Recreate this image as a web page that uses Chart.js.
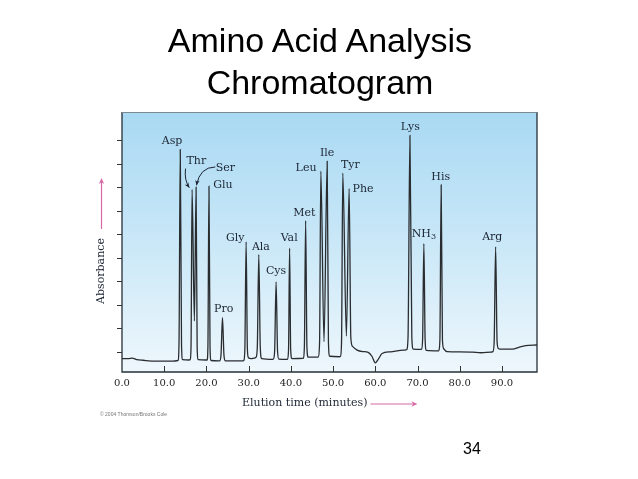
<!DOCTYPE html>
<html><head><meta charset="utf-8">
<script src="https://cdn.jsdelivr.net/npm/chart.js@4"></script>
<style>
html,body{margin:0;padding:0;background:#fff;width:638px;height:479px;overflow:hidden;}
#wrap{position:relative;width:638px;height:479px;}
canvas{position:absolute;left:0;top:0;}
.title{position:absolute;left:0;width:640px;top:19px;text-align:center;font-family:"Liberation Sans",Arial,sans-serif;font-size:34px;line-height:42px;color:#000;}
.page{position:absolute;left:463px;top:441px;font-family:"Liberation Sans",Arial,sans-serif;font-size:16px;line-height:16px;color:#000;}
</style></head>
<body><div id="wrap">
<canvas id="c" width="638" height="479"></canvas>
<div class="title">Amino Acid Analysis<br>Chromatogram</div>
<div class="page">34</div>
</div>
<script>
// Elution time (minutes) and absorbance (arbitrary units)
const elutionTimes = [
  0, 1.5, 2.4, 3.5, 5.0, 8.0, 12.0,
  13.25, 13.5, 13.8, 14.1, 14.35,
  15.95,
  16.15, 16.35, 16.6, 17.15, 17.55, 17.8, 18.05,
  19.9,
  20.15, 20.35, 20.6, 20.85, 21.1,
  22.9,
  23.1, 23.45, 23.8, 24.15, 24.5,
  28.7,
  28.85, 29.1, 29.4, 29.7, 29.95,
  30.6, 31.3,
  31.75, 32.05, 32.4, 32.75, 33.1,
  35.7,
  35.85, 36.15, 36.5, 36.85, 37.15,
  39.0,
  39.2, 39.45, 39.7, 39.95, 40.25,
  42.8,
  42.95, 43.2, 43.5, 43.8, 44.1,
  46.3,
  46.5, 46.8, 47.1, 47.85, 48.6, 48.9, 49.2,
  51.5,
  51.75, 52.0, 52.3, 53.15, 53.8, 54.2, 54.6,
  55.7, 57.0, 58.3, 59.2, 60.0, 60.8, 61.6, 63.6, 66.7,
  67.4, 67.75, 68.2, 68.65, 69.0,
  70.7,
  70.95, 71.2, 71.5, 71.8, 72.1,
  74.9,
  75.05, 75.3, 75.6, 75.9, 76.2,
  77.0, 80.0, 83.0, 85.0, 87.4,
  87.85, 88.15, 88.5, 88.85, 89.2,
  90.0, 92.5, 94.0, 95.6, 98.3
];
const absorbance = [
  0.70, 0.70, 0.72, 0.66, 0.63, 0.59, 0.59,
  0.62, 1.3, 9.6, 1.3, 0.66,
  0.64,
  0.66, 1.2, 7.9, 2.3, 8.0, 1.2, 0.66,
  0.64,
  0.64, 1.2, 8.04, 1.2, 0.62,
  0.60,
  0.60, 0.85, 2.44, 0.85, 0.60,
  0.60,
  0.62, 1.1, 5.67, 1.1, 0.74,
  0.70, 0.72,
  0.76, 1.2, 5.13, 1.2, 0.70,
  0.67,
  0.68, 1.0, 3.97, 1.0, 0.68,
  0.67,
  0.68, 1.1, 5.4, 1.1, 0.70,
  0.71,
  0.72, 1.2, 6.57, 1.2, 0.76,
  0.76,
  0.77, 1.4, 8.68, 1.42, 9.1, 1.4, 0.80,
  0.78,
  0.80, 1.4, 8.6, 1.66, 7.94, 1.6, 1.22,
  1.06, 1.0, 0.97, 0.80, 0.52, 0.70, 0.92, 0.99, 1.06,
  1.08, 1.6, 10.2, 1.6, 1.10,
  1.09,
  1.10, 1.5, 5.6, 1.5, 1.05,
  1.03,
  1.05, 1.5, 8.1, 1.5, 1.12,
  1.0, 0.99, 0.98, 0.95, 0.98,
  1.0, 1.4, 5.46, 1.4, 1.12,
  1.10, 1.10, 1.18, 1.25, 1.28
];
const xTickValues = [0, 10, 20, 30, 40, 50, 60, 70, 80, 90];
const xTickLabels = ['0.0','10.0','20.0','30.0','40.0','50.0','60.0','70.0','80.0','90.0'];
const yTickValues = [1, 2, 3, 4, 5, 6, 7, 8, 9, 10];
const xMin = 0, xMax = 98.3, yMin = 0.13, yMax = 11.2;

// peak labels, placed in data coordinates
const peakNames   = ['Asp','Thr','Ser','Glu','Pro','Gly','Ala','Cys','Val','Met','Leu','Ile','Tyr','Phe','Lys','NH3','His','Arg'];
const labelTimes  = [11.85, 17.6, 24.5, 23.9, 24.1, 26.8, 32.9, 36.5, 39.6, 43.2, 43.6, 48.6, 54.1, 57.1, 68.3, 71.5, 75.5, 87.7];
const labelValues = [9.96, 9.1, 8.8, 8.1, 2.8, 5.84, 5.46, 4.44, 5.83, 6.9, 8.8, 9.46, 8.94, 7.93, 10.57, 5.99, 8.44, 5.89];

// curved pointer arrows (start, control, end) in data coordinates
const pointerArrows = [
  {from:[15.05, 8.79], ctrl:[14.7, 8.3], to:[15.95, 7.98]},
  {from:[22.1, 8.86], ctrl:[18.4, 8.85], to:[17.65, 8.08]}
];

const LABEL_FONT = '11px "DejaVu Serif", "Liberation Serif", serif';
const INK = '#1c2433';
const PINK = '#d46aa6';

function arrowHead(ctx, x, y, angle, size){
  ctx.save();
  ctx.translate(x, y); ctx.rotate(angle);
  ctx.beginPath();
  ctx.moveTo(0, 0);
  ctx.lineTo(-size, -size*0.45);
  ctx.lineTo(-size*0.7, 0);
  ctx.lineTo(-size, size*0.45);
  ctx.closePath();
  ctx.fill();
  ctx.restore();
}

const decor = {
  id: 'decor',
  beforeDraw(chart){
    const {ctx, chartArea:a} = chart;
    const g = ctx.createLinearGradient(0, a.top, 0, a.bottom);
    g.addColorStop(0, '#a9d9f3');
    g.addColorStop(0.45, '#c6e6f7');
    g.addColorStop(1, '#eef7fc');
    ctx.save();
    ctx.fillStyle = g;
    ctx.fillRect(a.left, a.top, a.right - a.left, a.bottom - a.top);
    ctx.restore();
  },
  afterDraw(chart){
    const {ctx, chartArea:a} = chart;
    const xs = chart.scales.x, ys = chart.scales.y;
    ctx.save();
    // frame
    ctx.lineWidth = 1.3;
    ctx.strokeStyle = '#263038';
    ctx.beginPath();
    ctx.moveTo(a.left, a.top); ctx.lineTo(a.left, a.bottom); ctx.lineTo(a.right, a.bottom); ctx.lineTo(a.right, a.top);
    ctx.stroke();
    ctx.lineWidth = 1;
    ctx.strokeStyle = '#7d8a92';
    ctx.beginPath(); ctx.moveTo(a.left, a.top + 0.5); ctx.lineTo(a.right, a.top + 0.5); ctx.stroke();
    // y ticks (outward)
    ctx.strokeStyle = '#333';
    ctx.lineWidth = 1;
    yTickValues.forEach(v => {
      const y = Math.round(ys.getPixelForValue(v)) + 0.5;
      ctx.beginPath(); ctx.moveTo(a.left - 5, y); ctx.lineTo(a.left, y); ctx.stroke();
    });
    // x ticks (inward)
    xTickValues.forEach(v => {
      if (v === xMin) return;
      const x = Math.round(xs.getPixelForValue(v)) + 0.5;
      ctx.beginPath(); ctx.moveTo(x, a.bottom); ctx.lineTo(x, a.bottom - 6); ctx.stroke();
    });
    // peak labels
    ctx.fillStyle = INK;
    ctx.font = LABEL_FONT;
    ctx.textBaseline = 'middle';
    peakNames.forEach((name, i) => {
      const x = xs.getPixelForValue(labelTimes[i]);
      const y = ys.getPixelForValue(labelValues[i]);
      if (name === 'NH3') {
        ctx.font = LABEL_FONT;
        const w1 = ctx.measureText('NH').width;
        ctx.font = '8px "DejaVu Serif", serif';
        const w2 = ctx.measureText('3').width;
        const left = x - (w1 + w2) / 2;
        ctx.textAlign = 'left';
        ctx.font = LABEL_FONT;
        ctx.fillText('NH', left, y);
        ctx.font = '8px "DejaVu Serif", serif';
        ctx.fillText('3', left + w1, y + 3);
        ctx.font = LABEL_FONT;
      } else {
        ctx.textAlign = 'center';
        ctx.fillText(name, x, y);
      }
    });
    // pointer arrows for Thr and Ser
    ctx.strokeStyle = INK; ctx.fillStyle = INK; ctx.lineWidth = 1;
    pointerArrows.forEach(p => {
      const x0 = xs.getPixelForValue(p.from[0]), y0 = ys.getPixelForValue(p.from[1]);
      const cx = xs.getPixelForValue(p.ctrl[0]), cy = ys.getPixelForValue(p.ctrl[1]);
      const x1 = xs.getPixelForValue(p.to[0]), y1 = ys.getPixelForValue(p.to[1]);
      ctx.beginPath(); ctx.moveTo(x0, y0); ctx.quadraticCurveTo(cx, cy, x1, y1); ctx.stroke();
      arrowHead(ctx, x1, y1, Math.atan2(y1 - cy, x1 - cx), 5);
    });
    // x axis title with arrow
    ctx.fillStyle = INK;
    ctx.font = LABEL_FONT;
    ctx.textAlign = 'left';
    ctx.textBaseline = 'middle';
    const tx = a.left + 120, ty = a.bottom + 31.5;
    ctx.fillText('Elution time (minutes)', tx, ty);
    const tw = ctx.measureText('Elution time (minutes)').width;
    ctx.strokeStyle = PINK; ctx.fillStyle = PINK; ctx.lineWidth = 1.2;
    ctx.beginPath(); ctx.moveTo(tx + tw + 3, ty + 0.5); ctx.lineTo(tx + tw + 48, ty + 0.5); ctx.stroke();
    arrowHead(ctx, tx + tw + 50, ty + 0.5, 0, 6);
    // y axis title with arrow
    ctx.save();
    ctx.translate(a.left - 21, a.top + 159);
    ctx.rotate(-Math.PI / 2);
    ctx.fillStyle = INK;
    ctx.font = LABEL_FONT;
    ctx.textAlign = 'center';
    ctx.fillText('Absorbance', 0, 0);
    ctx.restore();
    ctx.strokeStyle = PINK; ctx.fillStyle = PINK; ctx.lineWidth = 1.2;
    const ax = a.left - 20.5;
    ctx.beginPath(); ctx.moveTo(ax, a.top + 117); ctx.lineTo(ax, a.top + 69); ctx.stroke();
    arrowHead(ctx, ax, a.top + 66, -Math.PI / 2, 6);
    // copyright
    ctx.fillStyle = '#777';
    ctx.font = '5px "Liberation Sans", Arial, sans-serif';
    ctx.textAlign = 'left';
    ctx.fillText('\u00A9 2004 Thomson/Brooks Cole', a.left - 22, a.bottom + 43);
    ctx.restore();
  }
};

new Chart(document.getElementById('c'), {
  type: 'line',
  data: {
    datasets: [{
      data: elutionTimes.map((t, i) => ({x: t, y: absorbance[i]})),
      borderColor: '#2a2d30',
      borderWidth: 1.3,
      pointRadius: 0,
      cubicInterpolationMode: 'monotone',
      fill: false
    }]
  },
  options: {
    responsive: false,
    animation: false,
    devicePixelRatio: 1,
    layout: { padding: { left: 122, top: 112, right: 101, bottom: 77 } },
    plugins: { legend: { display: false }, tooltip: { enabled: false } },
    scales: {
      x: {
        type: 'linear', min: xMin, max: xMax,
        afterBuildTicks: s => { s.ticks = xTickValues.map(v => ({value: v})); },
        afterFit: s => { s.height = 30; },
        grid: { display: false, drawTicks: false },
        border: { display: false },
        ticks: {
          padding: 5,
          maxRotation: 0, autoSkip: false,
          color: '#222',
          font: { family: '"DejaVu Serif", "Liberation Serif", serif', size: 10 },
          callback: (v, i) => xTickLabels[i]
        }
      },
      y: {
        type: 'linear', min: yMin, max: yMax,
        afterBuildTicks: s => { s.ticks = yTickValues.map(v => ({value: v})); },
        afterFit: s => { s.width = 0; },
        grid: { display: false, drawTicks: false },
        border: { display: false },
        ticks: { display: false }
      }
    }
  },
  plugins: [decor]
});
</script>
</body></html>
